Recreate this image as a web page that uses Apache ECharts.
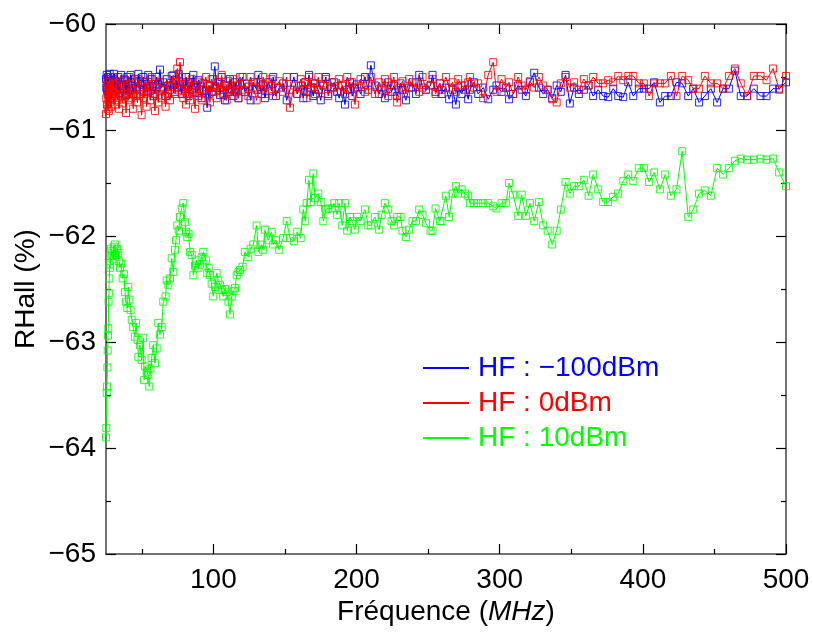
<!DOCTYPE html>
<html><head><meta charset="utf-8">
<script src="https://cdn.jsdelivr.net/npm/echarts@6/dist/echarts.min.js"></script>
<style>html,body{margin:0;padding:0;background:#fff}#c{width:813px;height:632px}</style>
</head><body><div id="c"></div>
<script>
const freq = [25.0,25.2,25.5,25.7,26.0,26.2,26.4,26.6,26.8,27.0,
27.3,27.6,27.9,28.2,28.6,29.0,29.5,30.0,30.5,31.3,
32.0,32.8,33.6,34.2,34.8,35.6,36.6,37.5,38.3,39.0,
39.9,40.6,41.3,42.2,43.0,44.0,45.2,46.0,47.0,47.6,
48.7,49.9,51.0,51.6,52.2,53.4,54.5,55.2,56.0,56.9,
58.0,59.2,60.4,61.5,62.7,63.9,65.0,66.6,67.4,68.5,
69.7,70.9,72.0,73.2,73.9,74.8,75.8,76.7,77.9,79.0,
80.2,80.9,81.8,82.7,83.7,84.9,86.0,87.2,88.3,89.5,
90.6,91.8,93.0,94.8,95.7,96.7,97.6,98.8,99.9,101.0,
102.3,103.4,104.6,105.8,106.9,108.1,109.3,110.5,111.6,112.8,
114.0,115.1,116.3,117.5,118.6,120.4,122.0,124.4,126.0,127.9,
130.2,131.4,133.7,134.8,136.0,138.3,140.7,141.8,143.7,146.0,
148.8,151.2,153.5,156.3,158.6,161.0,162.8,164.2,165.2,166.8,
168.2,169.8,171.0,173.3,175.0,176.8,178.6,180.2,182.6,184.4,
186.5,187.9,190.0,191.9,193.5,195.4,197.0,198.9,200.5,202.8,
205.9,208.2,210.0,212.8,215.8,217.5,219.8,222.2,224.5,226.1,
228.4,230.8,232.1,234.5,236.8,239.1,241.5,243.8,246.1,248.5,
251.7,253.1,255.2,258.2,259.4,262.4,264.7,267.1,269.4,271.0,
273.4,275.7,278.0,279.2,282.0,285.0,288.5,292.0,295.5,297.8,
301.3,304.3,306.6,309.4,312.9,315.3,318.3,321.1,324.1,327.4,
330.4,333.5,336.7,339.8,342.7,346.0,349.0,352.0,355.3,358.8,
362.1,365.3,368.8,372.3,375.8,379.3,382.8,386.3,389.8,393.3,
397.2,400.7,404.4,407.9,411.9,415.6,419.6,423.5,427.5,431.7,
435.2,439.3,443.3,447.5,451.9,456.1,460.1,464.3,468.4,472.8,
477.5,482.2,486.4,491.0,495.2,500.0];

const blueVals = [-60.52,-60.60,-60.48,-60.62,-60.55,-60.66,-60.50,-60.58,-60.64,-60.52,
-60.60,-60.47,-60.56,-60.63,-60.50,-60.58,-60.66,-60.52,-60.47,-60.60,
-60.55,-60.62,-60.50,-60.57,-60.65,-60.48,-60.58,-60.61,-60.53,-60.67,
-60.50,-60.57,-60.62,-60.48,-60.58,-60.66,-60.52,-60.60,-60.55,-60.47,
-60.62,-60.57,-60.50,-60.64,-60.55,-60.60,-60.48,-60.58,-60.63,-60.52,
-60.59,-60.66,-60.50,-60.57,-60.43,-60.60,-60.55,-60.68,-60.52,-60.58,
-60.62,-60.49,-60.57,-60.64,-60.53,-60.60,-60.47,-60.58,-60.66,-60.55,
-60.61,-60.50,-60.58,-60.68,-60.55,-60.62,-60.48,-60.60,-60.65,-60.53,
-60.58,-60.70,-60.56,-60.63,-60.79,-60.66,-60.58,-60.64,-60.52,-60.40,
-60.60,-60.55,-60.67,-60.50,-60.62,-60.72,-60.58,-60.64,-60.52,-60.61,
-60.68,-60.55,-60.62,-60.70,-60.57,-60.50,-60.64,-60.59,-60.72,-60.55,
-60.62,-60.48,-60.66,-60.58,-60.70,-60.55,-60.63,-60.50,-60.68,-60.60,
-60.56,-60.72,-60.62,-60.50,-60.66,-60.58,-60.70,-60.55,-60.64,-60.48,
-60.60,-60.68,-60.56,-60.62,-60.72,-60.58,-60.50,-60.66,-60.60,-60.55,
-60.64,-60.70,-60.58,-60.76,-60.62,-60.55,-60.68,-60.60,-60.57,-60.66,
-60.50,-60.62,-60.39,-60.58,-60.66,-60.60,-60.70,-60.55,-60.64,-60.58,
-60.68,-60.56,-60.62,-60.72,-60.60,-60.55,-60.66,-60.48,-60.60,-60.62,
-60.58,-60.48,-60.64,-60.56,-60.66,-60.60,-60.71,-60.62,-60.76,-60.60,
-60.66,-60.58,-60.71,-60.62,-60.55,-60.66,-60.60,-60.71,-60.62,-60.58,
-60.64,-60.60,-60.71,-60.66,-60.58,-60.62,-60.68,-60.55,-60.46,-60.60,
-60.66,-60.62,-60.70,-60.58,-60.64,-60.48,-60.75,-60.60,-60.66,-60.62,
-60.58,-60.68,-60.62,-60.68,-60.69,-60.61,-60.68,-60.69,-60.55,-60.68,
-60.61,-60.61,-60.61,-60.55,-60.74,-60.68,-60.68,-60.55,-60.56,-60.68,
-60.61,-60.74,-60.68,-60.61,-60.74,-60.61,-60.61,-60.44,-60.68,-60.68,
-60.61,-60.68,-60.68,-60.61,-60.61,-60.55];

const redVals = [-60.85,-60.70,-60.58,-60.76,-60.62,-60.80,-60.55,-60.72,-60.66,-60.82,
-60.60,-60.74,-60.52,-60.68,-60.78,-60.58,-60.70,-60.50,-60.64,-60.76,
-60.56,-60.72,-60.62,-60.80,-60.54,-60.68,-60.75,-60.52,-60.66,-60.84,
-60.60,-60.72,-60.50,-60.70,-60.62,-60.80,-60.56,-60.68,-60.74,-60.52,
-60.66,-60.86,-60.60,-60.70,-60.55,-60.78,-60.64,-60.58,-60.72,-60.50,
-60.68,-60.82,-60.60,-60.74,-60.55,-60.70,-60.62,-60.78,-60.52,-60.66,
-60.72,-60.58,-60.48,-60.66,-60.55,-60.42,-60.62,-60.36,-60.50,-60.70,
-60.58,-60.76,-60.55,-60.66,-60.72,-60.52,-60.64,-60.80,-60.58,-60.68,
-60.55,-60.72,-60.62,-60.50,-60.66,-60.58,-60.74,-60.52,-60.64,-60.60,
-60.70,-60.55,-60.62,-60.48,-60.66,-60.58,-60.72,-60.54,-60.62,-60.68,
-60.52,-60.64,-60.58,-60.70,-60.50,-60.62,-60.56,-60.68,-60.50,-60.60,
-60.72,-60.55,-60.62,-60.50,-60.66,-60.58,-60.52,-60.68,-60.60,-60.54,
-60.64,-60.50,-60.79,-60.58,-60.66,-60.52,-60.62,-60.55,-60.70,-60.50,
-60.60,-60.56,-60.66,-60.50,-60.62,-60.58,-60.52,-60.68,-60.55,-60.60,
-60.64,-60.52,-60.58,-60.66,-60.50,-60.62,-60.55,-60.76,-60.60,-60.52,
-60.64,-60.58,-60.50,-60.66,-60.55,-60.62,-60.52,-60.68,-60.58,-60.50,
-60.74,-60.60,-60.54,-60.66,-60.52,-60.60,-60.56,-60.64,-60.50,-60.62,
-60.58,-60.52,-60.66,-60.56,-60.62,-60.50,-60.60,-60.55,-60.64,-60.52,
-60.58,-60.62,-60.55,-60.50,-60.60,-60.56,-60.70,-60.48,-60.36,-60.64,
-60.52,-60.60,-60.55,-60.66,-60.50,-60.58,-60.62,-60.54,-60.60,-60.50,
-60.58,-60.62,-60.71,-60.74,-60.56,-60.50,-60.60,-60.55,-60.62,-60.52,
-60.58,-60.50,-60.56,-60.56,-60.53,-60.55,-60.49,-60.53,-60.49,-60.49,
-60.56,-60.56,-60.68,-60.56,-60.56,-60.56,-60.49,-60.68,-60.49,-60.53,
-60.61,-60.61,-60.49,-60.56,-60.56,-60.61,-60.49,-60.42,-60.56,-60.68,
-60.49,-60.49,-60.53,-60.42,-60.62,-60.49];

const greenVals = [-63.90,-63.81,-63.48,-63.42,-63.24,-63.08,-62.94,-62.87,-62.62,-62.54,
-62.40,-62.27,-62.30,-62.19,-62.12,-62.19,-62.14,-62.22,-62.10,-62.08,
-62.18,-62.12,-62.16,-62.24,-62.30,-62.26,-62.40,-62.36,-62.53,-62.62,
-62.68,-62.48,-62.60,-62.70,-62.79,-62.86,-62.95,-62.82,-62.98,-63.14,
-63.03,-63.17,-62.96,-63.36,-63.23,-63.28,-63.31,-63.42,-63.25,-63.15,
-63.03,-63.20,-63.06,-62.82,-62.93,-62.86,-62.62,-62.57,-62.42,-62.46,
-62.40,-62.21,-62.34,-62.13,-62.04,-61.90,-61.95,-61.82,-61.74,-61.69,
-61.87,-61.96,-62.01,-61.98,-62.15,-62.18,-62.37,-62.28,-62.23,-62.30,
-62.27,-62.20,-62.15,-62.23,-62.35,-62.30,-62.37,-62.45,-62.57,-62.48,
-62.35,-62.42,-62.46,-62.51,-62.57,-62.50,-62.53,-62.62,-62.74,-62.57,
-62.52,-62.49,-62.37,-62.34,-62.32,-62.29,-62.15,-62.20,-62.12,-62.08,
-61.90,-62.15,-62.08,-62.13,-61.94,-62.04,-61.96,-62.08,-62.04,-62.13,
-62.02,-61.86,-62.02,-62.05,-61.96,-62.02,-61.75,-61.86,-61.69,-61.47,
-61.68,-61.41,-61.64,-61.60,-61.68,-61.86,-61.75,-61.74,-61.74,-61.69,
-61.80,-61.69,-61.90,-61.69,-61.95,-61.82,-61.86,-61.94,-61.82,-61.86,
-61.75,-61.90,-61.90,-61.82,-61.94,-61.80,-61.69,-61.75,-61.86,-61.90,
-61.82,-61.82,-61.95,-62.01,-61.94,-61.86,-61.86,-61.75,-61.80,-61.88,
-61.95,-61.95,-61.74,-61.86,-61.86,-61.62,-61.82,-61.60,-61.53,-61.60,
-61.56,-61.60,-61.62,-61.69,-61.69,-61.69,-61.69,-61.69,-61.72,-61.74,
-61.69,-61.69,-61.50,-61.61,-61.81,-61.61,-61.81,-61.69,-61.86,-61.68,
-61.90,-61.95,-62.08,-61.95,-61.75,-61.49,-61.60,-61.53,-61.53,-61.47,
-61.62,-61.42,-61.56,-61.68,-61.68,-61.63,-61.60,-61.48,-61.42,-61.48,
-61.36,-61.36,-61.49,-61.40,-61.56,-61.42,-61.62,-61.56,-61.20,-61.82,
-61.75,-61.60,-61.57,-61.62,-61.36,-61.42,-61.36,-61.29,-61.27,-61.28,
-61.28,-61.27,-61.28,-61.27,-61.40,-61.53];

const seriesNames = ['HF : \u2212100dBm', 'HF : 0dBm', 'HF : 10dBm'];
const seriesColors = ['#0000ff', '#ff0000', '#00ff00'];
const xMajor = [100, 200, 300, 400, 500];
const xMinor = [50, 150, 250, 350, 450];

const FONT = "'Liberation Sans', Arial, sans-serif";
const axisLineStyle = { color: '#444', width: 1.5 };

function mk(vals, i) {
  return {
    name: seriesNames[i],
    type: 'line',
    data: freq.map((f, k) => [f, vals[k]]),
    symbol: 'rect',
    symbolSize: 7,
    showSymbol: true,
    color: seriesColors[i],
    lineStyle: { color: seriesColors[i], width: 1 },
    itemStyle: { color: 'rgba(0,0,0,0)', borderColor: seriesColors[i], borderWidth: 1, opacity: 0.85 },
    emphasis: { disabled: true },
    animation: false,
    z: 2 + i
  };
}

const chart = echarts.init(document.getElementById('c'), null, { renderer: 'canvas' });
const xBase = { type: 'value', min: 25, max: 500, gridIndex: 0, splitLine: { show: false } };
const yBase = { type: 'value', min: -65, max: -60, interval: 1, splitLine: { show: false } };
chart.setOption({
  animation: false,
  backgroundColor: '#fff',
  grid: { left: 106, right: 27, top: 24, bottom: 78, containLabel: false, outerBoundsMode: 'none' },
  legend: {
    orient: 'vertical', left: 423, top: 354, padding: 0, itemWidth: 46, itemHeight: 2, itemGap: 7,
    icon: 'rect',
    textStyle: { fontFamily: FONT, fontSize: 28, lineHeight: 28, padding: [0, 0, 0, 4] },
    data: seriesNames.map((n, i) => ({ name: n, itemStyle: { color: seriesColors[i], borderWidth: 0, opacity: 1 }, textStyle: { color: seriesColors[i] } }))
  },
  xAxis: [
    Object.assign({}, xBase, {
      position: 'bottom',
      name: 'Fr\u00e9quence ({i|MHz})', nameLocation: 'middle', nameGap: 44, nameMoveOverlap: false,
      nameTextStyle: { fontFamily: FONT, fontSize: 28, color: '#000', rich: { i: { fontFamily: FONT, fontSize: 28, fontStyle: 'italic', color: '#000' } } },
      axisLine: { show: true, onZero: false, lineStyle: axisLineStyle },
      axisTick: { show: true, inside: true, length: 10, customValues: xMajor, lineStyle: { color: '#000', width: 1.2 } },
      axisLabel: { show: true, customValues: xMajor, margin: 12, fontFamily: FONT, fontSize: 28, color: '#000' }
    }),
    Object.assign({}, xBase, {
      position: 'bottom',
      axisLine: { show: false },
      axisTick: { show: true, inside: true, length: 5, customValues: xMinor, lineStyle: { color: '#000', width: 1.2 } },
      axisLabel: { show: false }
    }),
    Object.assign({}, xBase, {
      position: 'top',
      axisLine: { show: true, onZero: false, lineStyle: axisLineStyle },
      axisTick: { show: true, inside: true, length: 10, customValues: xMajor, lineStyle: { color: '#000', width: 1.2 } },
      axisLabel: { show: false }
    }),
    Object.assign({}, xBase, {
      position: 'top',
      axisLine: { show: false },
      axisTick: { show: true, inside: true, length: 5, customValues: xMinor, lineStyle: { color: '#000', width: 1.2 } },
      axisLabel: { show: false }
    })
  ],
  yAxis: [
    Object.assign({}, yBase, {
      position: 'left',
      name: 'RHall (%)', nameLocation: 'middle', nameGap: 66, nameMoveOverlap: false,
      nameTextStyle: { fontFamily: FONT, fontSize: 28, color: '#000' },
      axisLine: { show: true, onZero: false, lineStyle: axisLineStyle },
      axisTick: { show: true, inside: true, length: 10, lineStyle: { color: '#000', width: 1.2 } },
      minorTick: { show: true, splitNumber: 2, length: 5, lineStyle: { color: '#000', width: 1.2 } },
      axisLabel: { margin: 10, fontFamily: FONT, fontSize: 28, color: '#000', formatter: v => String(v).replace('-', '\u2212') }
    }),
    Object.assign({}, yBase, {
      position: 'right',
      axisLine: { show: true, onZero: false, lineStyle: axisLineStyle },
      axisTick: { show: true, inside: true, length: 10, lineStyle: { color: '#000', width: 1.2 } },
      minorTick: { show: true, splitNumber: 2, length: 5, lineStyle: { color: '#000', width: 1.2 } },
      axisLabel: { show: false }
    })
  ],
  series: [mk(blueVals, 0), mk(redVals, 1), mk(greenVals, 2)]
});
</script>
</body></html>
